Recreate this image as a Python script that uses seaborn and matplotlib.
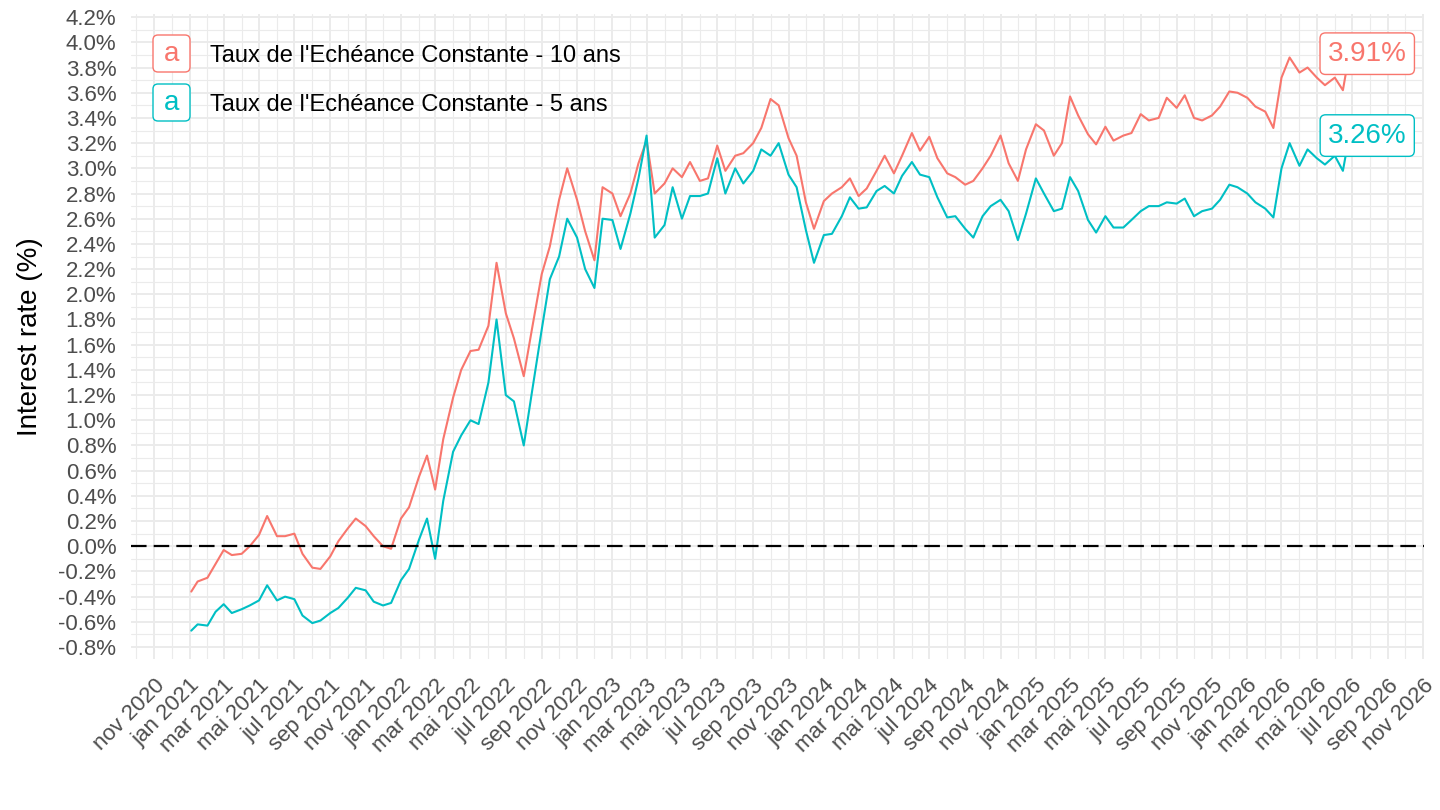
import pandas as pd
import numpy as np
import matplotlib
matplotlib.use("Agg")
import matplotlib.pyplot as plt
import matplotlib.dates as mdates
import matplotlib.ticker as mticker
from matplotlib.patches import FancyBboxPatch
from matplotlib.transforms import IdentityTransform
import seaborn as sns

# Series names and colours (ggplot default hue)
series_names = ["Taux de l'Echéance Constante - 10 ans",
                "Taux de l'Echéance Constante - 5 ans"]
series_colors = ["#F8766D", "#00BFC4"]

# Two readings per month (1st and 15th), jan 2021 -> jun 2026, then last day
first_month = "2021-01-01"
last_month = "2026-06-01"
last_day = "2026-06-26"

ten_y = [
    # 2021
    -0.36, -0.28, -0.25, -0.14, -0.03, -0.07, -0.06, 0.00, 0.09, 0.24, 0.08, 0.08,
    0.10, -0.06, -0.17, -0.18, -0.08, 0.04, 0.14, 0.22, 0.16, 0.08, 0.00, -0.02,
    # 2022
    0.22, 0.31, 0.55, 0.72, 0.45, 0.85, 1.18, 1.40, 1.55, 1.56, 1.75, 2.25,
    1.85, 1.65, 1.35, 1.72, 2.16, 2.38, 2.75, 3.00, 2.75, 2.50, 2.27, 2.85,
    # 2023
    2.80, 2.62, 2.80, 3.04, 3.22, 2.80, 2.88, 3.00, 2.93, 3.05, 2.90, 2.92,
    3.18, 2.98, 3.10, 3.12, 3.20, 3.32, 3.55, 3.50, 3.24, 3.10, 2.73, 2.52,
    # 2024
    2.74, 2.80, 2.85, 2.92, 2.78, 2.84, 2.98, 3.10, 2.96, 3.10, 3.28, 3.14,
    3.25, 3.08, 2.96, 2.93, 2.87, 2.90, 3.00, 3.10, 3.26, 3.04, 2.90, 3.15,
    # 2025
    3.35, 3.30, 3.10, 3.20, 3.57, 3.42, 3.27, 3.19, 3.33, 3.22, 3.26, 3.28,
    3.43, 3.38, 3.40, 3.56, 3.48, 3.58, 3.40, 3.38, 3.42, 3.49, 3.61, 3.60,
    # 2026
    3.56, 3.49, 3.45, 3.32, 3.72, 3.88, 3.76, 3.80, 3.72, 3.66, 3.72, 3.62,
    3.91,
]

five_y = [
    # 2021
    -0.67, -0.62, -0.63, -0.52, -0.46, -0.53, -0.50, -0.47, -0.43, -0.31, -0.43, -0.40,
    -0.42, -0.55, -0.61, -0.59, -0.53, -0.49, -0.41, -0.33, -0.35, -0.44, -0.47, -0.45,
    # 2022
    -0.27, -0.18, 0.05, 0.22, -0.10, 0.36, 0.75, 0.88, 1.00, 0.97, 1.30, 1.80,
    1.20, 1.15, 0.80, 1.22, 1.72, 2.12, 2.30, 2.60, 2.45, 2.20, 2.05, 2.60,
    # 2023
    2.59, 2.36, 2.64, 2.92, 3.26, 2.45, 2.55, 2.85, 2.60, 2.78, 2.78, 2.80,
    3.08, 2.80, 3.00, 2.88, 2.98, 3.15, 3.10, 3.20, 2.95, 2.85, 2.51, 2.25,
    # 2024
    2.47, 2.48, 2.62, 2.77, 2.68, 2.69, 2.82, 2.86, 2.80, 2.94, 3.05, 2.95,
    2.93, 2.77, 2.61, 2.62, 2.52, 2.45, 2.62, 2.70, 2.75, 2.66, 2.43, 2.64,
    # 2025
    2.92, 2.80, 2.66, 2.68, 2.93, 2.82, 2.59, 2.49, 2.62, 2.53, 2.53, 2.59,
    2.66, 2.70, 2.70, 2.73, 2.72, 2.76, 2.62, 2.66, 2.68, 2.75, 2.87, 2.85,
    # 2026
    2.80, 2.73, 2.68, 2.61, 3.00, 3.20, 3.02, 3.15, 3.08, 3.03, 3.10, 2.98,
    3.26,
]

month_fr = {1: "jan", 2: "fév", 3: "mar", 4: "avr", 5: "mai", 6: "jui",
            7: "jul", 8: "aoû", 9: "sep", 10: "oct", 11: "nov", 12: "déc"}

# Build the date axis
months = pd.date_range(first_month, last_month, freq="MS")
dates = []
for m in months:
    dates.append(m)
    dates.append(m + pd.Timedelta(days=14))
dates[0] = pd.Timestamp("2021-01-04")
dates.append(pd.Timestamp(last_day))

df = pd.concat([
    pd.DataFrame({"date": dates, "value": ten_y, "series": series_names[0]}),
    pd.DataFrame({"date": dates, "value": five_y, "series": series_names[1]}),
])

sns.set_theme(style="white")
plt.rcParams['font.family'] = ['Liberation Sans', 'DejaVu Sans']

W, H = 1440, 810
fig = plt.figure(figsize=(W / 100, H / 100), dpi=100)
ax = fig.add_axes([131 / W, 1 - 659 / H, (1424 - 131) / W, (659 - 14) / H])

palette = dict(zip(series_names, series_colors))
sns.lineplot(data=df, x="date", y="value", hue="series", palette=palette,
             linewidth=1.5, estimator=None, legend=False, ax=ax, zorder=3)

ax.axhline(0, color="black", linestyle=(0, (7, 3.2)), linewidth=1.6, zorder=4)

# axes limits / ticks
ax.set_xlim(pd.Timestamp("2020-09-22"), pd.Timestamp("2026-11-02"))
ax.set_ylim(-0.895, 4.225)
ax.xaxis.set_major_locator(mdates.MonthLocator(bymonth=[1, 3, 5, 7, 9, 11]))
ax.xaxis.set_minor_locator(mdates.MonthLocator(bymonth=[2, 4, 6, 8, 10, 12]))
ax.xaxis.set_major_formatter(mticker.FuncFormatter(
    lambda v, p: f"{month_fr[mdates.num2date(v).month]} {mdates.num2date(v).year}"))
yticks = np.round(np.arange(-0.8, 4.21, 0.2), 1) + 0.0
ax.set_yticks(yticks)
ax.set_yticklabels([f"{abs(t):.1f}%" if abs(t) < 1e-9 else f"{t:.1f}%" for t in yticks])
ax.yaxis.set_minor_locator(mticker.MultipleLocator(0.1))

ax.grid(which="major", color="#EBEBEB", linewidth=1.4, zorder=0)
ax.grid(which="minor", color="#EBEBEB", linewidth=0.8, zorder=0)
for s in ax.spines.values():
    s.set_visible(False)
ax.tick_params(which="both", length=0)
ax.tick_params(axis="y", labelsize=16, labelcolor="#4D4D4D", pad=10.5)
ax.tick_params(axis="x", labelsize=16, labelcolor="#4D4D4D", pad=11.5)
for lab in ax.get_xticklabels():
    lab.set_rotation(45)
    lab.set_ha("right")
    lab.set_va("top")
    lab.set_rotation_mode("anchor")

ax.set_xlabel("")
ax.set_ylabel("Interest rate (%)", fontsize=20, color="black")
ax.yaxis.set_label_coords(-0.068, 0.5)

# end-of-series value labels
for vals, col in zip([ten_y, five_y], series_colors):
    ax.text(pd.Timestamp(last_day) + pd.Timedelta(days=31), vals[-1], f"{vals[-1]:.2f}%",
            ha="center", va="center", fontsize=20, color=col, zorder=6,
            bbox=dict(boxstyle="round,pad=0.28,rounding_size=0.2", fc="white", ec=col, lw=1))

# legend with label-style keys, top-left inside the panel
ident = IdentityTransform()
for i, (name, col) in enumerate(zip(series_names, series_colors)):
    top = [35, 84][i]
    box = FancyBboxPatch((153, H - top - 37), 37, 37,
                         boxstyle="round,pad=0,rounding_size=5",
                         fc="white", ec=col, lw=1, transform=ident, zorder=7)
    fig.patches.append(box)
    fig.text(171.5 / W, 1 - (top + 19) / H, "a", color=col, fontsize=20,
             ha="center", va="center", zorder=8)
    fig.text(210 / W, 1 - (top + 21) / H, name, color="black", fontsize=17,
             ha="left", va="center", zorder=8)

plt.savefig("out.png", dpi=100)
